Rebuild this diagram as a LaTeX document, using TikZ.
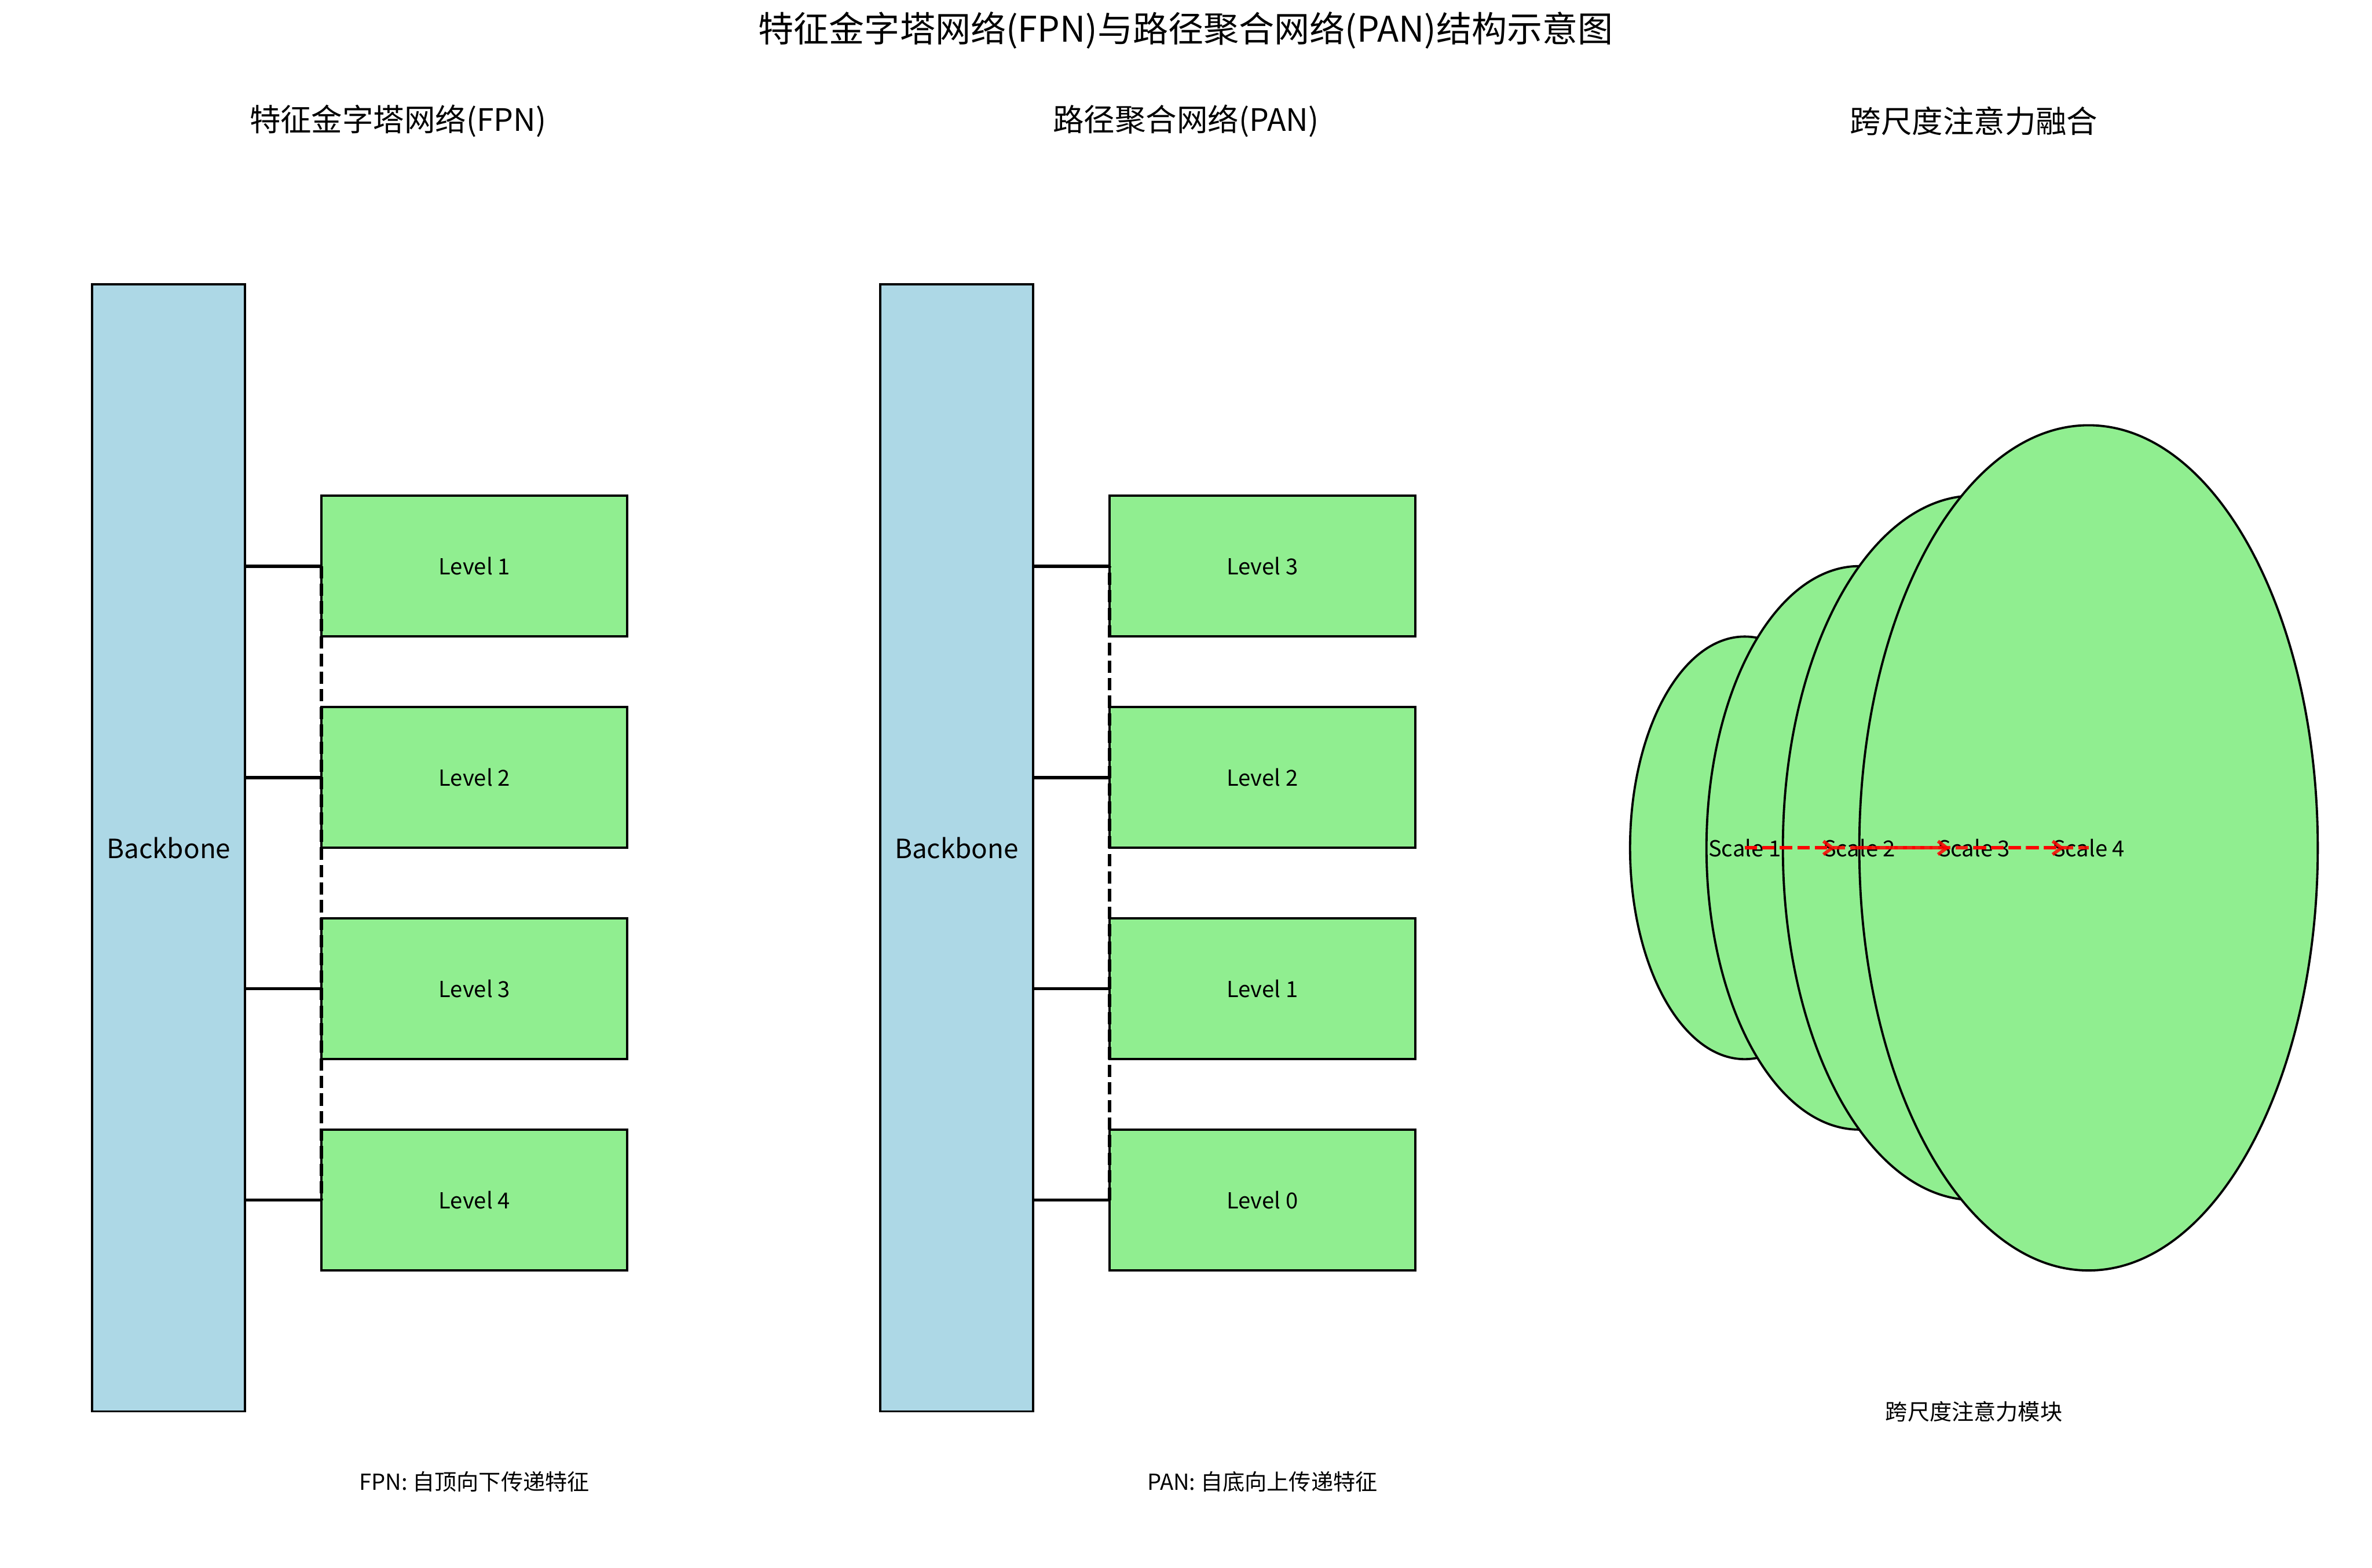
\documentclass[tikz,border=0pt]{standalone}
\usepackage{fontspec}
\setmainfont{Noto Sans CJK SC}
\usetikzlibrary{arrows.meta, shapes.geometric}
\definecolor{bbblue}{HTML}{ADD8E6}
\definecolor{lvgreen}{HTML}{90EE90}
\begin{document}
\begin{tikzpicture}[x=69.12pt, y=63.72pt,
  every node/.style={font=\fontsize{10}{12}\selectfont, inner sep=0pt},
  headline/.style={font=\fontsize{14}{17}\selectfont},
  backbone/.style={draw, fill=bbblue, line width=1pt, outer sep=0pt, minimum width=69.12pt,
    minimum height=509.76pt, font=\fontsize{12}{14}\selectfont},
  level/.style={draw, fill=lvgreen, line width=1pt, outer sep=0pt, minimum width=138.24pt, minimum height=63.72pt},
  scaleblob/.style={draw, ellipse, fill=lvgreen, line width=1pt},
  link/.style={line width=1.5pt},
  flowdash/.style={line width=1.5pt, dash pattern=on 5.55pt off 2.4pt},
  flow/.style={red, opacity=0.85, line width=1.5pt, dash pattern=on 5.55pt off 2.4pt},
  >={Straight Barb[length=4pt, width=6pt]}]
\def\dx{5.156}
\useasboundingbox (-0.104,-0.111) rectangle (15.417,11.019);
\node[font=\fontsize{16}{19}\selectfont] (title) at ({\dx+2.5},10.804)
  {特征金字塔网络(FPN)与路径聚合网络(PAN)结构示意图};
% FPN: top-down
\node[headline] (fpnhead) at (2.5,10.16) {特征金字塔网络(FPN)};
\node[backbone] (fbb) at (1,5) {Backbone};
\foreach \n/\y in {1/7,2/5.5,3/4,4/2.5}{
  \node[level] (f\n) at (3,\y) {Level \n};
  \draw[link] (fbb.east |- f\n.west) -- (f\n.west);}
\draw[flowdash] (f1.west) -- (f4.west);
\node (fcap) at (3,0.5) {FPN: 自顶向下传递特征};
% PAN: bottom-up
\node[headline] (panhead) at ({\dx+2.5},10.16) {路径聚合网络(PAN)};
\node[backbone] (pbb) at ({\dx+1},5) {Backbone};
\foreach \n/\y in {3/7,2/5.5,1/4,0/2.5}{
  \node[level] (p\n) at ({\dx+3},\y) {Level \n};
  \draw[link] (pbb.east |- p\n.west) -- (p\n.west);}
\draw[flowdash] (p0.west) -- (p3.west);
\node (pcap) at ({\dx+3},0.5) {PAN: 自底向上传递特征};
% cross-scale attention
\node[headline] (atthead) at ({2*\dx+2.5},10.16) {跨尺度注意力融合};
\foreach \n/\x/\w/\h in {1/1/103.68/191.16,2/1.75/138.24/254.88,3/2.5/172.8/318.6,4/3.25/207.36/382.32}{
  \node[scaleblob, minimum width=\w pt, minimum height=\h pt] (e\n) at ({2*\dx+\x},5) {};}
\foreach \n in {1,...,4}{
  \node (s\n) at (e\n.center) {Scale \n};}
\draw[flow] (s1.center) -- (s4.center);
\foreach \i/\j in {1/2,2/3,3/4}{
  \draw[flow, ->, shorten >=11pt] (s\i.center) -- (s\j.center);}
\node (attcap) at ({2*\dx+2.5},1) {跨尺度注意力模块};
\end{tikzpicture}
\end{document}
